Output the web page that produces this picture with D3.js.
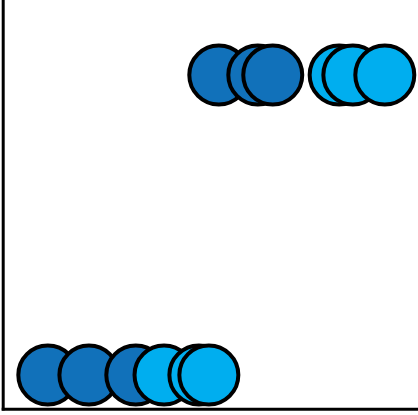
<!DOCTYPE html>
<html><head><meta charset="utf-8">
<script src="https://cdn.jsdelivr.net/npm/d3@7"></script>
<style>body{margin:0;background:#fff}svg{display:block}</style>
</head><body>
<script>
const xValues = [1.08, 2.07, 3.2, 3.88, 4.72, 4.96, 5.2, 6.14, 6.5, 8.1, 8.43, 9.2];
const yValues = [0, 0, 0, 0, 0, 0, 1, 1, 1, 1, 1, 1];
const groups  = ["A", "A", "A", "B", "B", "B", "A", "A", "A", "B", "B", "B"];
const groupNames = ["A", "B"];
const groupColors = ["#1171ba", "#00aeef"];

const W = 418, H = 415;
const svg = d3.select("body").append("svg").attr("width", W).attr("height", H);
const x = d3.scaleLinear().domain([0, 10]).range([3, 418]);
const y = d3.scaleLinear().domain([0, 1]).range([375, 75]);
const color = d3.scaleOrdinal().domain(groupNames).range(groupColors);

const data = xValues.map((v, i) => ({x: v, y: yValues[i], g: groups[i]}));

svg.selectAll("circle").data(data).join("circle")
  .attr("cx", d => x(d.x)).attr("cy", d => y(d.y)).attr("r", 29.5)
  .attr("fill", d => color(d.g)).attr("stroke", "#000").attr("stroke-width", 4);

svg.append("line").attr("x1", 3.2).attr("x2", 3.2).attr("y1", 0).attr("y2", 410.5)
  .attr("stroke", "#000").attr("stroke-width", 3);
svg.append("line").attr("x1", 1.7).attr("x2", 418).attr("y1", 409.2).attr("y2", 409.2)
  .attr("stroke", "#000").attr("stroke-width", 3);
</script>
</body></html>
